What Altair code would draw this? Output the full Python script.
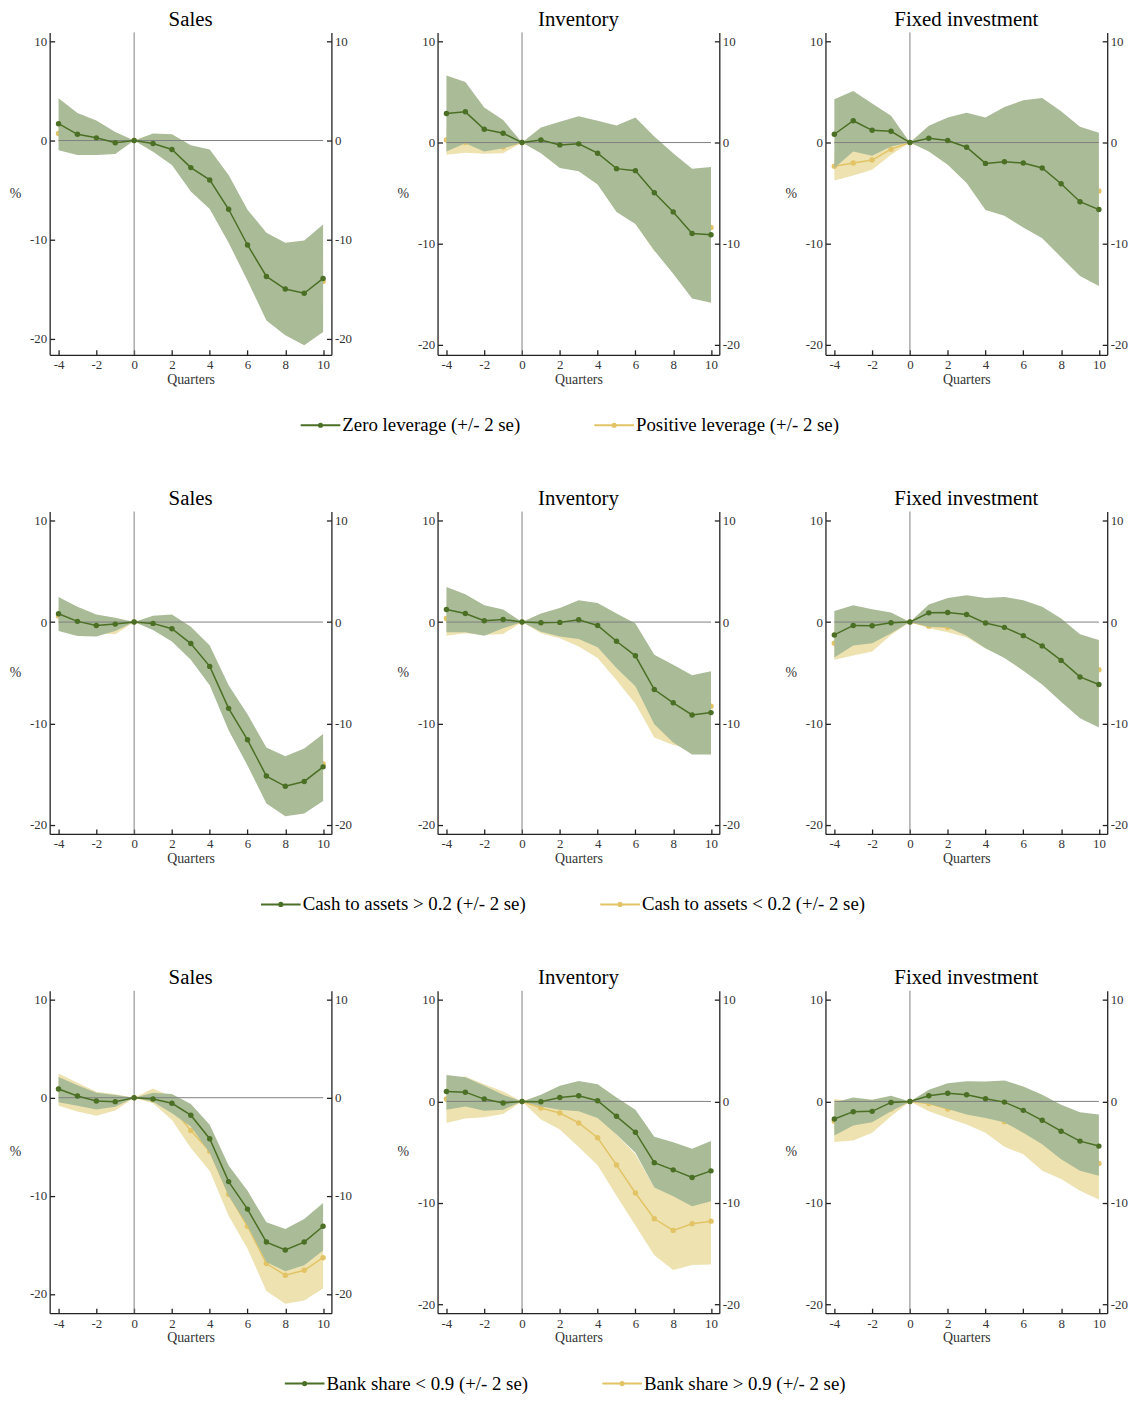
import altair as alt
import pandas as pd

quarters = list(range(-4, 11))
panel_titles = ["Sales", "Inventory", "Fixed investment"]
row_labels = [
    ["Zero leverage (+/- 2 se)", "Positive leverage (+/- 2 se)"],
    ["Cash to assets > 0.2 (+/- 2 se)", "Cash to assets < 0.2 (+/- 2 se)"],
    ["Bank share < 0.9 (+/- 2 se)", "Bank share > 0.9 (+/- 2 se)"],
]
y_ticks = [-20, -10, 0, 10]
x_ticks = [-4, -2, 0, 2, 4, 6, 8, 10]

# ---------------- Row 1 : leverage ----------------
r1_sales_g = [1.7, 0.63, 0.27, -0.23, 0, -0.3, -0.9, -2.73, -3.97, -6.93, -10.53, -13.7, -14.97, -15.4, -13.9]
r1_sales_g_hi = [4.27, 2.77, 2.03, 0.87, 0, 0.7, 0.63, -0.47, -0.9, -3.47, -6.97, -9.3, -10.3, -10.07, -8.47]
r1_sales_g_lo = [-0.97, -1.47, -1.47, -1.37, 0, -1.13, -2.47, -5.13, -6.9, -10.3, -14.13, -18.13, -19.63, -20.63, -19.3]
r1_sales_y = [0.7, 0.4, 0.2, -0.1, 0, -0.3, -1.0, -2.6, -4.3, -7.3, -10.8, -13.2, -14.6, -15.0, -14.2]
r1_sales_y_hi = [1.6, 1.1, 0.8, 0.3, 0, 0.2, -0.2, -1.5, -2.8, -5.2, -8.6, -11.0, -12.2, -12.6, -11.8]
r1_sales_y_lo = [-0.3, -0.4, -0.5, -0.5, 0, -0.8, -1.8, -3.7, -5.8, -9.6, -13.2, -15.4, -17.0, -17.4, -16.6]

r1_inv_g = [2.88, 3.04, 1.31, 0.92, 0, 0.26, -0.23, -0.13, -1.05, -2.58, -2.78, -4.97, -6.86, -8.99, -9.12]
r1_inv_g_hi = [6.63, 5.98, 3.46, 2.22, 0, 1.5, 2.06, 2.61, 2.16, 1.7, 2.48, 0.59, -1.05, -2.58, -2.42]
r1_inv_g_lo = [-0.88, -0.07, -0.88, -0.56, 0, -1.05, -2.52, -2.84, -4.15, -6.86, -8.07, -10.69, -12.97, -15.42, -15.85]
r1_inv_y = [0.25, 0.0, -0.3, -0.45, 0, -0.5, -1.2, -1.8, -3.0, -4.5, -5.8, -7.3, -8.2, -8.8, -8.4]
r1_inv_y_hi = [1.5, 1.0, 0.5, 0.3, 0, 0.3, 0.2, -0.1, -1.0, -2.1, -3.2, -4.0, -4.6, -5.1, -4.8]
r1_inv_y_lo = [-1.2, -1.0, -1.1, -1.05, 0, -1.0, -2.4, -2.8, -4.1, -6.7, -8.0, -10.75, -11.8, -12.5, -12.0]

r1_fix_g = [0.82, 2.16, 1.21, 1.11, 0, 0.42, 0.2, -0.46, -2.06, -1.9, -2.03, -2.52, -4.08, -5.85, -6.63]
r1_fix_g_hi = [4.28, 5.1, 3.86, 2.65, 0, 1.67, 2.48, 2.94, 2.48, 3.53, 4.18, 4.41, 3.1, 1.57, 0.98]
r1_fix_g_lo = [-2.52, -0.88, -1.31, -0.39, 0, -0.88, -2.19, -3.99, -6.67, -7.25, -8.4, -9.48, -11.34, -13.2, -14.2]
r1_fix_y = [-2.35, -2.03, -1.73, -0.65, 0, -0.5, -1.0, -1.6, -2.2, -2.7, -3.2, -3.6, -4.0, -4.5, -4.8]
r1_fix_y_hi = [-1.0, -0.8, -1.1, -0.3, 0, 0.5, 0.5, 0.4, 0.2, 0.0, -0.3, -0.5, -0.8, -1.2, -1.3]
r1_fix_y_lo = [-3.76, -3.27, -2.68, -1.2, 0, -0.8, -2.0, -3.3, -4.3, -5.0, -5.8, -6.5, -7.2, -8.2, -8.8]

# ---------------- Row 2 : cash to assets ----------------
r2_sales_g = [0.82, 0.07, -0.33, -0.2, 0, -0.13, -0.65, -2.12, -4.37, -8.51, -11.61, -15.19, -16.2, -15.72, -14.28]
r2_sales_g_hi = [2.48, 1.5, 0.75, 0.42, 0, 0.62, 0.75, -0.46, -2.31, -6.23, -9.1, -12.36, -13.24, -12.46, -11.05]
r2_sales_g_lo = [-0.88, -1.37, -1.43, -0.88, 0, -0.78, -1.92, -3.72, -6.23, -10.66, -14.15, -17.9, -19.14, -18.88, -17.64]
r2_sales_y = [0.6, 0.0, -0.4, -0.4, 0, -0.2, -0.8, -2.3, -4.6, -8.6, -11.8, -15.0, -16.0, -15.6, -14.0]
r2_sales_y_hi = [1.4, 0.8, 0.3, 0.1, 0, 0.3, 0.1, -1.2, -3.3, -7.2, -10.2, -13.6, -14.6, -14.2, -12.6]
r2_sales_y_lo = [-0.3, -0.8, -1.1, -1.2, 0, -0.6, -1.6, -3.4, -5.9, -10.0, -13.4, -16.4, -17.4, -17.0, -15.4]

r2_inv_g = [1.24, 0.85, 0.13, 0.26, 0, -0.07, -0.03, 0.23, -0.33, -1.89, -3.33, -6.65, -7.96, -9.16, -8.93]
r2_inv_g_hi = [3.46, 2.74, 1.66, 1.24, 0, 0.85, 1.4, 2.15, 1.89, 0.85, -0.13, -3.23, -4.21, -5.25, -4.86]
r2_inv_g_lo = [-1.01, -1.01, -1.34, -0.62, 0, -0.95, -1.43, -1.66, -2.48, -4.53, -6.33, -10.07, -11.87, -13.07, -13.07]
r2_inv_y = [0.35, 0.1, -0.3, -0.3, 0, -0.4, -0.7, -1.1, -1.8, -3.3, -4.8, -7.2, -8.3, -8.8, -8.3]
r2_inv_y_hi = [1.8, 1.3, 0.7, 0.6, 0, 0.3, 0.2, 0.2, -0.1, -0.9, -1.6, -3.5, -4.6, -5.4, -5.0]
r2_inv_y_lo = [-1.34, -1.1, -1.27, -1.17, 0, -1.1, -1.6, -2.41, -3.55, -5.74, -8.05, -11.38, -12.13, -12.5, -12.0]

r2_fix_g = [-1.27, -0.33, -0.36, -0.07, 0, 0.91, 0.95, 0.75, -0.1, -0.52, -1.34, -2.35, -3.78, -5.41, -6.16]
r2_fix_g_hi = [1.08, 1.66, 1.27, 0.95, 0, 1.73, 2.38, 2.64, 2.38, 2.48, 2.15, 1.5, 0.36, -1.21, -1.76]
r2_fix_g_lo = [-3.49, -2.31, -2.09, -1.1, 0, -0.46, -0.52, -1.34, -2.58, -3.55, -4.79, -6.16, -7.86, -9.49, -10.4]
r2_fix_y = [-2.09, -1.5, -1.3, -0.6, 0, -0.4, -0.5, -0.9, -1.5, -2.0, -2.6, -3.2, -3.8, -4.4, -4.7]
r2_fix_y_hi = [-0.5, 0.2, 0.2, 0.3, 0, 0.3, 0.1, -0.2, -0.5, -0.7, -1.0, -1.3, -1.5, -1.9, -1.9]
r2_fix_y_lo = [-3.72, -3.29, -2.9, -1.27, 0, -0.6, -1.0, -1.5, -2.6, -3.4, -4.3, -5.3, -6.3, -7.6, -8.2]

# ---------------- Row 3 : bank share ----------------
r3_sales_g = [0.88, 0.17, -0.34, -0.4, 0, -0.13, -0.57, -1.78, -4.18, -8.55, -11.35, -14.71, -15.52, -14.71, -13.1]
r3_sales_g_hi = [2.12, 1.28, 0.5, 0.27, 0, 0.5, 0.37, -0.64, -2.76, -6.9, -9.49, -12.69, -13.37, -12.36, -10.74]
r3_sales_g_lo = [-0.47, -0.81, -1.21, -0.91, 0, -0.4, -1.58, -2.93, -5.62, -10.0, -13.03, -16.73, -17.68, -17.07, -15.56]
r3_sales_y = [0.9, 0.3, -0.4, -0.3, 0, -0.2, -1.0, -3.33, -5.45, -9.83, -13.1, -16.9, -18.08, -17.58, -16.3]
r3_sales_y_hi = [2.46, 1.52, 0.61, 0.34, 0, 0.94, 0.1, -1.41, -3.6, -7.64, -11.0, -14.2, -15.1, -14.5, -13.0]
r3_sales_y_lo = [-0.81, -1.41, -1.85, -1.31, 0, -0.57, -2.26, -5.12, -7.47, -12.02, -15.39, -19.7, -21.0, -20.67, -19.43]

r3_inv_g = [0.98, 0.91, 0.23, -0.16, 0, -0.03, 0.39, 0.55, 0.07, -1.47, -3.03, -6.03, -6.74, -7.49, -6.84]
r3_inv_g_hi = [2.61, 2.38, 1.53, 0.65, 0, 0.65, 1.53, 2.02, 1.69, 0.39, -0.81, -3.49, -4.01, -4.66, -3.91]
r3_inv_g_lo = [-0.81, -0.49, -0.91, -0.81, 0, -0.49, -0.81, -0.98, -1.63, -3.26, -5.05, -8.47, -9.35, -10.33, -9.84]
r3_inv_y = [0.23, 0.0, -0.2, -0.3, 0, -0.65, -1.14, -2.12, -3.58, -6.25, -9.02, -11.56, -12.7, -12.05, -11.79]
r3_inv_y_hi = [2.2, 2.45, 1.7, 0.98, 0, -0.16, -0.49, -0.81, -1.47, -3.26, -5.21, -8.47, -9.12, -9.77, -9.77]
r3_inv_y_lo = [-2.12, -1.69, -1.56, -1.24, 0, -1.79, -2.77, -4.5, -6.29, -9.28, -12.21, -15.15, -16.61, -16.12, -16.06]

r3_fix_g = [-1.73, -1.01, -0.98, -0.1, 0, 0.55, 0.81, 0.65, 0.26, -0.07, -0.88, -1.86, -2.93, -3.91, -4.4]
r3_fix_g_hi = [-0.1, 0.39, 0.16, 0.55, 0, 1.14, 1.79, 1.99, 1.95, 2.05, 1.47, 0.65, -0.33, -1.07, -1.3]
r3_fix_g_lo = [-3.36, -2.38, -2.05, -0.98, 0, -0.23, -0.75, -1.3, -1.63, -2.05, -3.09, -4.23, -5.7, -6.84, -7.33]
r3_fix_y = [-1.95, -1.5, -1.4, -0.75, 0, -0.2, -0.75, -0.7, -1.3, -2.0, -2.8, -3.7, -4.5, -5.5, -6.12]
r3_fix_y_hi = [0.23, 0.0, 0.0, 0.3, 0, 0.3, 0.3, 0.0, -0.5, -1.0, -1.5, -2.1, -2.8, -3.5, -4.0]
r3_fix_y_lo = [-4.0, -3.84, -3.09, -1.47, 0, -0.98, -1.63, -2.28, -3.09, -4.46, -5.21, -6.84, -7.65, -8.79, -9.67]

# lower end of each panel's y range (Stata picks them per panel)
y_low = [[-21.6, -21.0, -21.0], [-20.9, -20.9, -20.9], [-21.95, -20.85, -20.85]]

series_rows = [
    [(r1_sales_g, r1_sales_g_lo, r1_sales_g_hi, r1_sales_y, r1_sales_y_lo, r1_sales_y_hi),
     (r1_inv_g, r1_inv_g_lo, r1_inv_g_hi, r1_inv_y, r1_inv_y_lo, r1_inv_y_hi),
     (r1_fix_g, r1_fix_g_lo, r1_fix_g_hi, r1_fix_y, r1_fix_y_lo, r1_fix_y_hi)],
    [(r2_sales_g, r2_sales_g_lo, r2_sales_g_hi, r2_sales_y, r2_sales_y_lo, r2_sales_y_hi),
     (r2_inv_g, r2_inv_g_lo, r2_inv_g_hi, r2_inv_y, r2_inv_y_lo, r2_inv_y_hi),
     (r2_fix_g, r2_fix_g_lo, r2_fix_g_hi, r2_fix_y, r2_fix_y_lo, r2_fix_y_hi)],
    [(r3_sales_g, r3_sales_g_lo, r3_sales_g_hi, r3_sales_y, r3_sales_y_lo, r3_sales_y_hi),
     (r3_inv_g, r3_inv_g_lo, r3_inv_g_hi, r3_inv_y, r3_inv_y_lo, r3_inv_y_hi),
     (r3_fix_g, r3_fix_g_lo, r3_fix_g_hi, r3_fix_y, r3_fix_y_lo, r3_fix_y_hi)],
]

GREEN_LINE = "#4b6f24"
GREEN_BAND = "#aabb97"
YEL_LINE = "#e2c466"
YEL_BAND = "#ede2b0"
GREY = "#7f7f7f"
AXIS = "#222222"
LABEL = "#333333"
FONT = "Liberation Serif"
W, H = 284, 325
X_DOMAIN = [-4.47, 10.44]
SYMBOL = "M-1,0L1,0M0.08,0A0.08,0.08,0,1,1,-0.08,0A0.08,0.08,0,1,1,0.08,0"
LBL = "'' + datum.value"


def panel(title, labels, ylo, data, legend_x):
    g, g_lo, g_hi, yv, y_lo, y_hi = data
    recs = []
    for i, q in enumerate(quarters):
        recs.append({"q": q, "series": labels[1], "mid": yv[i], "lo": y_lo[i], "hi": y_hi[i]})
    for i, q in enumerate(quarters):
        recs.append({"q": q, "series": labels[0], "mid": g[i], "lo": g_lo[i], "hi": g_hi[i]})
    df = pd.DataFrame(recs)

    xscale = alt.Scale(domain=X_DOMAIN, nice=False, zero=False)
    yscale = alt.Scale(domain=[ylo, 10.9], nice=False, zero=False)

    # labelled axes (no ticks) ...
    x_lab = alt.Axis(orient="bottom", values=x_ticks, title="Quarters", grid=False, ticks=False,
                     labelPadding=4, titlePadding=1, labelExpr=LBL)
    y_left = alt.Axis(orient="left", values=y_ticks, grid=False, ticks=False, labelPadding=3,
                      title="%", titleAngle=0, titleX=-35, titleY=H / 2,
                      titleAlign="center", titleBaseline="middle", labelExpr=LBL)
    y_right = alt.Axis(orient="right", values=y_ticks, grid=False, ticks=False, labelPadding=3,
                       title=None, labelExpr=LBL)
    # ... and tick-only axes flipped to the opposite side, so the ticks point inward
    x_tick = alt.Axis(orient="top", offset=-H, values=x_ticks, grid=False, labels=False,
                      domain=False, ticks=True, tickSize=5, title=None)
    y_tick_l = alt.Axis(orient="right", offset=-W, values=y_ticks, grid=False, labels=False,
                        domain=False, ticks=True, tickSize=5, title=None)
    y_tick_r = alt.Axis(orient="left", offset=-W, values=y_ticks, grid=False, labels=False,
                        domain=False, ticks=True, tickSize=5, title=None)

    color = alt.Color("series:N",
                      scale=alt.Scale(domain=labels, range=[GREEN_LINE, YEL_LINE]),
                      legend=alt.Legend(title=None, orient="none", direction="horizontal",
                                        legendX=legend_x, legendY=375,
                                        symbolType=SYMBOL, symbolSize=1600, symbolStrokeWidth=2,
                                        labelFont=FONT, labelFontSize=19, labelColor="black",
                                        labelOffset=1, columnPadding=70, padding=0,
                                        labelLimit=400))

    base = alt.Chart(df)
    yel = base.transform_filter(alt.datum.series == labels[1])
    grn = base.transform_filter(alt.datum.series == labels[0])

    band_y = yel.mark_area(color=YEL_BAND, opacity=1).encode(
        x=alt.X("q:Q", scale=xscale, axis=x_lab),
        y=alt.Y("lo:Q", scale=yscale, axis=y_left), y2="hi:Q")
    line_y = yel.mark_line(strokeWidth=1.5, point=alt.OverlayMarkDef(filled=True, size=30)).encode(
        x=alt.X("q:Q", scale=xscale, axis=x_tick),
        y=alt.Y("mid:Q", scale=yscale, axis=y_tick_l), color=color)
    band_g = grn.mark_area(color=GREEN_BAND, opacity=1).encode(
        x=alt.X("q:Q", scale=xscale, axis=None),
        y=alt.Y("lo:Q", scale=yscale, axis=y_right), y2="hi:Q")
    zero = alt.Chart(pd.DataFrame({"z": [0]}))
    hrule = zero.mark_rule(color=GREY, strokeWidth=1).encode(
        x=alt.XDatum(-4, scale=xscale, axis=None), x2=alt.X2Datum(10),
        y=alt.YDatum(0, scale=yscale, axis=None))
    vrule = zero.mark_rule(color=GREY, strokeWidth=1).encode(
        x=alt.XDatum(0, scale=xscale, axis=None))
    line_g = grn.mark_line(strokeWidth=1.5, point=alt.OverlayMarkDef(filled=True, size=30)).encode(
        x=alt.X("q:Q", scale=xscale, axis=None),
        y=alt.Y("mid:Q", scale=yscale, axis=y_tick_r), color=color)

    return alt.layer(band_y, line_y, band_g, hrule, vrule, line_g).resolve_scale(
        x="shared", y="shared").resolve_axis(x="independent", y="independent").properties(
        width=W, height=H,
        title=alt.Title(title, font=FONT, fontSize=21, fontWeight="normal", color="black",
                        offset=2, frame="group", anchor="middle"))


legend_xs = [252, 212, 236]
rows = []
for r in range(3):
    panels = [panel(panel_titles[c], row_labels[r], y_low[r][c], series_rows[r][c], legend_xs[r])
              for c in range(3)]
    rows.append(alt.hconcat(*panels, spacing=107, bounds="flush"))

chart = alt.vconcat(*rows, spacing=483, bounds="flush").resolve_scale(
    color="independent").properties(
    background="white",
    padding={"left": 1, "top": -5, "right": 5, "bottom": 5}
).configure_view(stroke=None).configure_axis(
    domainColor=AXIS, domainWidth=1.3, tickColor=AXIS, tickWidth=1.3,
    labelFont=FONT, labelFontSize=13, labelColor=LABEL,
    titleFont=FONT, titleFontSize=14, titleFontWeight="normal", titleColor=LABEL
)

chart.save("out.html", embed_options={"renderer": "svg", "actions": False})
